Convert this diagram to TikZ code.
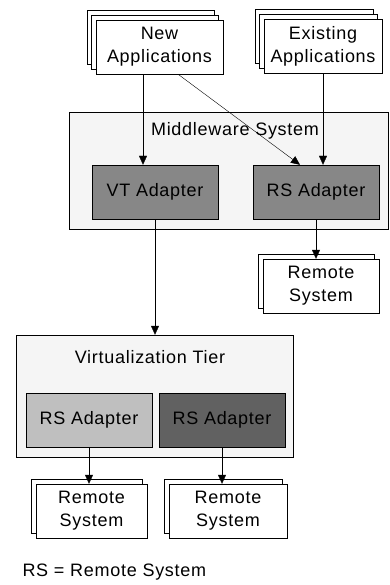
\documentclass[tikz,border=0pt]{standalone}
\usepackage{fontspec}
\setmainfont{Liberation Sans}[LetterSpace = 4]
\usetikzlibrary{arrows.meta,shadows}
\tikzset{
	box/.style = {draw, fill = white, align = center, inner sep = 0pt, font = \fontsize{18}{23}\selectfont},
	stack/.style = {box, double copy shadow = {shadow xshift = -4.5pt, shadow yshift = 5pt, thin}},
	remote/.style = {box, copy shadow = {shadow xshift = -4.5pt, shadow yshift = 5pt, thin}},
	tier/.style = {draw, fill = black!4, inner sep = 0pt},
	adapter/.style = {box, minimum width = 126pt, minimum height = 54pt},
	arr/.style = {-{Triangle[length = 9pt, width = 8pt]}}
}
\begin{document}
\begin{tikzpicture}[x = 1pt, y = -1pt]
		\useasboundingbox (0, 0) rectangle (390, 585);
		% applications
		\node[stack, minimum width = 127pt, minimum height = 54pt] (newapp) at (159.5, 47) {New\\Applications};
		\node[stack, minimum width = 118pt, minimum height = 54pt] (exapp) at (323, 46) {Existing\\Applications};
		% middleware
		\node[tier, minimum width = 319pt, minimum height = 117pt] (mw) at (228.5, 170.5) {};
		\node[font = \fontsize{18}{23}\selectfont] (mwlabel) at (235, 131) {Middleware System};
		\node[adapter, fill = black!47] (vta) at (155, 192) {VT Adapter};
		\node[adapter, fill = black!47] (rsa) at (316, 192) {RS Adapter};
		\node[remote, minimum width = 116pt, minimum height = 54pt] (rem1) at (321, 286) {Remote\\System};
		% virtualization tier
		\node[tier, minimum width = 277pt, minimum height = 122pt] (vt) at (154.5, 396) {};
		\node[font = \fontsize{18}{23}\selectfont] (vtlabel) at (150, 357) {Virtualization Tier};
		\node[adapter, fill = black!25] (rsl) at (89, 420) {RS Adapter};
		\node[adapter, fill = black!62] (rsd) at (222, 420) {RS Adapter};
		\foreach \x/\w/\name in {91.5/111/rem2, 228/118/rem3}{
			\node[remote, minimum width = \w pt, minimum height = 54pt] (\name) at (\x, 511) {Remote\\System};}
		\node[anchor = west, font = \fontsize{18}{23}\selectfont] (legend) at (19, 572) {RS = Remote System};
		% connectors
		\draw[arr] ([xshift = -16.5pt]newapp.south) -- ([xshift = -16.5pt]newapp.south |- vta.north);
		\draw[arr] ([xshift = 18.5pt]newapp.south) -- ([xshift = -16pt]rsa.north);
		\draw[arr] (exapp.south) -- (exapp.south |- rsa.north);
		\draw[arr] (rsa.south) -- (rsa.south |- rem1.north);
		\draw[arr] (vta.south) -- (vta.south |- vt.north);
		\draw[arr] (rsl.south) -- (rsl.south |- rem2.north);
		\draw[arr] (rsd.south) -- (rsd.south |- rem3.north);
		\end{tikzpicture}
\end{document}
